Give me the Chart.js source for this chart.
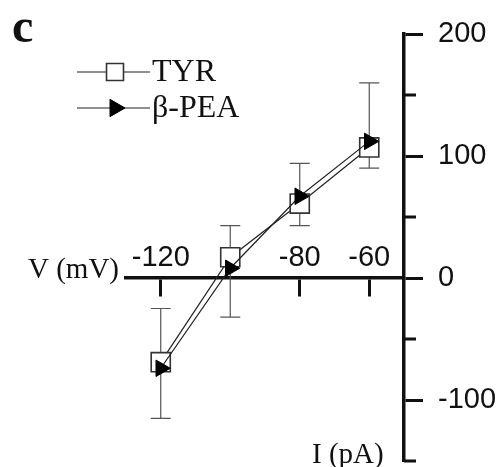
<!DOCTYPE html>
<html><head><meta charset="utf-8">
<script src="https://cdn.jsdelivr.net/npm/chart.js@4/dist/chart.umd.min.js"></script>
<style>html,body{margin:0;padding:0;background:#fff;}#wrap{position:relative;width:504px;height:467px;}</style>
</head><body><div id="wrap"><canvas id="c" width="504" height="467"></canvas></div>
<script>
// ---- data ----
const voltages = [-120, -100, -80, -60];      // x categories (I axis values)
const tyrValues = [-69, 17, 61, 107];         // TYR series
const peaValues = [-74, 8, 67, 112];          // β-PEA series
const errTop = [-25, 43, 94, 160];            // error bar upper ends
const errBottom = [-115, -32, 43, 90];        // error bar lower ends
const xTickValues = [-120, -80, -60];
const yMajorTicks = [-100, 0, 100, 200];
const yMinorTicks = [-150, -50, 50, 150];
const seriesNames = ['TYR', 'β-PEA'];
const panelLabel = 'c';
const yTitle = 'V (mV)';
const xTitle = 'I (pA)';

const INK = '#111';
const SANS = '"Liberation Sans", Arial, sans-serif';
const SERIF = '"Liberation Serif", "Times New Roman", serif';

const extras = {
  id: 'extras',
  beforeDatasetsDraw(chart) {
    const {ctx, scales: {x, y}} = chart;
    ctx.save();
    ctx.strokeStyle = '#555';
    ctx.lineWidth = 1.2;
    voltages.forEach((v, i) => {
      const px = x.getPixelForValue(v);
      const top = y.getPixelForValue(errTop[i]);
      const bot = y.getPixelForValue(errBottom[i]);
      ctx.beginPath();
      ctx.moveTo(px, top); ctx.lineTo(px, bot);
      ctx.moveTo(px - 10, top); ctx.lineTo(px + 10, top);
      ctx.moveTo(px - 10, bot); ctx.lineTo(px + 10, bot);
      ctx.stroke();
    });
    ctx.restore();
  },
  afterDraw(chart) {
    const {ctx, scales: {y}} = chart;
    ctx.save();
    // minor ticks on the V axis
    ctx.strokeStyle = INK;
    ctx.lineWidth = 3;
    yMinorTicks.forEach(v => {
      const py = y.getPixelForValue(v);
      ctx.beginPath();
      ctx.moveTo(y.left, py); ctx.lineTo(y.left + 12, py);
      ctx.stroke();
    });
    // panel label
    ctx.fillStyle = INK;
    ctx.font = 'bold 48px ' + SERIF;
    ctx.textBaseline = 'alphabetic';
    ctx.textAlign = 'left';
    ctx.fillText(panelLabel, 12, 42);
    // axis titles
    ctx.font = '29px ' + SERIF;
    ctx.fillText(yTitle, 28, 278);
    ctx.fillText(xTitle, 312, 463);
    // legend
    const rows = [72, 108];
    chart.data.datasets.forEach((ds, i) => {
      const ry = rows[i];
      ctx.strokeStyle = '#222';
      ctx.lineWidth = 1.2;
      ctx.beginPath();
      ctx.moveTo(77, ry); ctx.lineTo(150, ry);
      ctx.stroke();
      ctx.fillStyle = ds.pointBackgroundColor;
      ctx.strokeStyle = ds.pointBorderColor;
      ctx.lineWidth = ds.pointBorderWidth;
      Chart.helpers.drawPoint(ctx, {
        pointStyle: ds.pointStyle,
        rotation: ds.pointRotation || 0,
        radius: ds.legendRadius,
        borderWidth: ds.pointBorderWidth
      }, 115, ry);
      ctx.fillStyle = INK;
      ctx.font = '32px ' + SERIF;
      ctx.textBaseline = 'middle';
      ctx.fillText(ds.label, 152, ry + 1);
    });
    ctx.restore();
  }
};

new Chart(document.getElementById('c'), {
  type: 'line',
  data: {
    datasets: [
      {
        label: seriesNames[0],
        data: voltages.map((v, i) => ({x: v, y: tyrValues[i]})),
        borderColor: '#222', borderWidth: 1.2, tension: 0,
        pointStyle: 'rect', pointRadius: 13.5, legendRadius: 12,
        pointBackgroundColor: '#fff', pointBorderColor: '#333', pointBorderWidth: 1.6,
        order: 2
      },
      {
        label: seriesNames[1],
        data: voltages.map((v, i) => ({x: v, y: peaValues[i]})),
        borderColor: '#222', borderWidth: 1.2, tension: 0,
        pointStyle: 'triangle', pointRotation: 90, pointRadius: 9.5, legendRadius: 10,
        pointBackgroundColor: '#000', pointBorderColor: '#000', pointBorderWidth: 1,
        order: 1
      }
    ]
  },
  options: {
    responsive: false, animation: false, devicePixelRatio: 1,
    layout: {autoPadding: false, padding: {left: 126, top: 34, bottom: 6, right: 0}},
    plugins: {legend: {display: false}, tooltip: {enabled: false}},
    scales: {
      x: {
        type: 'linear', min: -130, max: -50, position: {y: 0},
        afterBuildTicks: s => { s.ticks = xTickValues.map(v => ({value: v})); },
        afterFit: s => { s.height = 0; s.paddingLeft = 0; s.paddingRight = 0; s.paddingTop = 0; s.paddingBottom = 0; },
        grid: {drawOnChartArea: false, drawTicks: true, tickLength: 17, tickWidth: 3, tickColor: INK},
        border: {display: true, width: 3.5, color: INK},
        ticks: {font: {family: SANS, size: 29}, color: INK, padding: -54, maxRotation: 0, autoSkip: false}
      },
      y: {
        type: 'linear', min: -150, max: 200, position: 'right',
        afterBuildTicks: s => { s.ticks = yMajorTicks.map(v => ({value: v})); },
        afterFit: s => { s.width = 100; s.paddingTop = 0; s.paddingBottom = 0; s.paddingLeft = 0; s.paddingRight = 0; },
        grid: {drawOnChartArea: false, drawTicks: true, tickLength: 19, tickWidth: 3, tickColor: INK},
        border: {display: true, width: 3.5, color: INK},
        ticks: {font: {family: SANS, size: 29}, color: INK, padding: 15, autoSkip: false}
      }
    }
  },
  plugins: [extras]
});
</script></body></html>
